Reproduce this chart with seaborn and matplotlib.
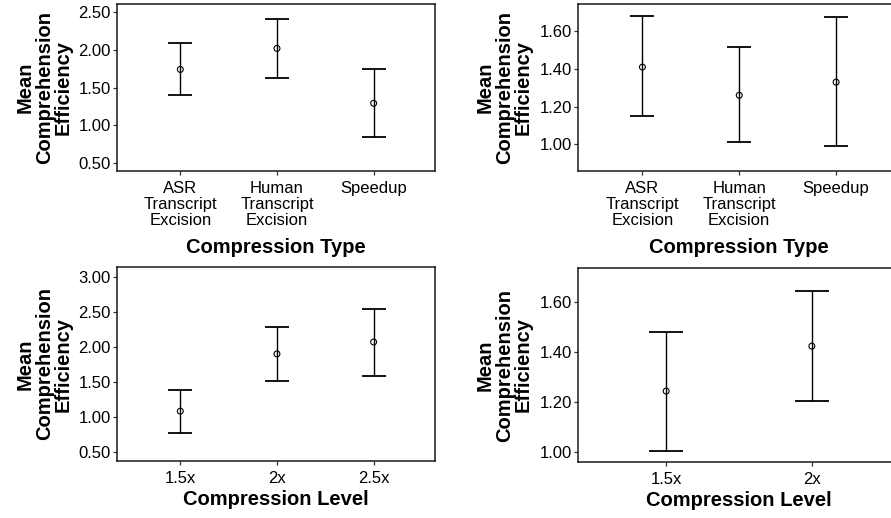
import numpy as np
import pandas as pd
import matplotlib
matplotlib.use("Agg")
import matplotlib.pyplot as plt
import seaborn as sns
from matplotlib.ticker import FormatStrFormatter, MultipleLocator

# data (mean and 95% CI bounds)
type_labels = ["ASR\nTranscript\nExcision", "Human\nTranscript\nExcision", "Speedup"]
level_labels = ["1.5x", "2x", "2.5x"]
level_labels_2 = ["1.5x", "2x"]

tl_mean = [1.74, 2.02, 1.29]
tl_low = [1.40, 1.62, 0.84]
tl_high = [2.09, 2.41, 1.75]

tr_mean = [1.41, 1.26, 1.33]
tr_low = [1.15, 1.01, 0.99]
tr_high = [1.68, 1.515, 1.675]

bl_mean = [1.08, 1.90, 2.07]
bl_low = [0.77, 1.51, 1.59]
bl_high = [1.39, 2.285, 2.54]

br_mean = [1.245, 1.425]
br_low = [1.005, 1.205]
br_high = [1.48, 1.645]

sns.set_style("ticks")
plt.rcParams['font.family'] = ['Liberation Sans', 'DejaVu Sans']
plt.rcParams['text.color'] = 'black'
plt.rcParams['axes.labelcolor'] = 'black'

fig = plt.figure(figsize=(8.91, 5.18), dpi=100)

W, H = 891, 518


def px_axes(left, top, right, bottom):
    return fig.add_axes([left / W, 1 - bottom / H, (right - left) / W, (bottom - top) / H])


panels = [
    # axes box px, labels, mean, low, high, xlim, ylim, ytick step, xlabel, capsize, xlabel coords
    ((117, 4, 435, 171), type_labels, tl_mean, tl_low, tl_high, (-0.655, 2.635), (0.39, 2.61), 0.5,
     "Compression Type", 8.3, (0.5, -0.461)),
    ((578, 4, 900, 171), type_labels, tr_mean, tr_low, tr_high, (-0.665, 2.66), (0.857, 1.746), 0.2,
     "Compression Type", 8.3, (0.5, -0.461)),
    ((117, 267, 435, 461), level_labels, bl_mean, bl_low, bl_high, (-0.655, 2.635), (0.367, 3.143), 0.5,
     "Compression Level", 8.3, (0.5, -0.201)),
    ((578, 268, 900, 462), level_labels_2, br_mean, br_low, br_high, (-0.605, 1.605), (0.961, 1.738), 0.2,
     "Compression Level", 11.9, (0.5, -0.198)),
]

for box, labels, mean, low, high, xlim, ylim, step, xlabel, cap, xlc in panels:
    ax = px_axes(*box)
    df = pd.DataFrame({"cat": labels, "mean": mean, "low": low, "high": high})
    x = np.arange(len(df))
    yerr = [df["mean"] - df["low"], df["high"] - df["mean"]]
    ax.errorbar(x, df["mean"], yerr=yerr, fmt="none", ecolor="black",
                elinewidth=1.0, capsize=cap, capthick=1.3, zorder=2)
    sns.scatterplot(data=df, x="cat", y="mean", ax=ax, marker="o", s=18,
                    facecolor="none", edgecolor="black", linewidth=0.8, zorder=3)
    ax.set_xlim(*xlim)
    ax.set_ylim(*ylim)
    ax.yaxis.set_major_locator(MultipleLocator(step))
    ax.yaxis.set_major_formatter(FormatStrFormatter("%.2f"))
    ax.set_xticks(x)
    ax.set_xticklabels(labels, linespacing=1.1)
    for sp in ax.spines.values():
        sp.set_visible(True)
        sp.set_color("#1a1a1a")
        sp.set_linewidth(1.1)
    ax.tick_params(axis="both", direction="out", length=3, width=0.9, color="#333333",
                   labelsize=12, labelcolor="black")
    ax.tick_params(axis="y", pad=1.5)
    ax.tick_params(axis="x", pad=4)
    ax.set_xlabel(xlabel, fontsize=14.5, fontweight="bold", va="center")
    ax.xaxis.set_label_coords(*xlc)
    ax.set_ylabel("Mean\nComprehension\nEfficiency", fontsize=14.5, fontweight="bold",
                  va="center", linespacing=1.0)
    ax.yaxis.set_label_coords(-0.228, 0.5)

fig.savefig("out.png", dpi=100)
